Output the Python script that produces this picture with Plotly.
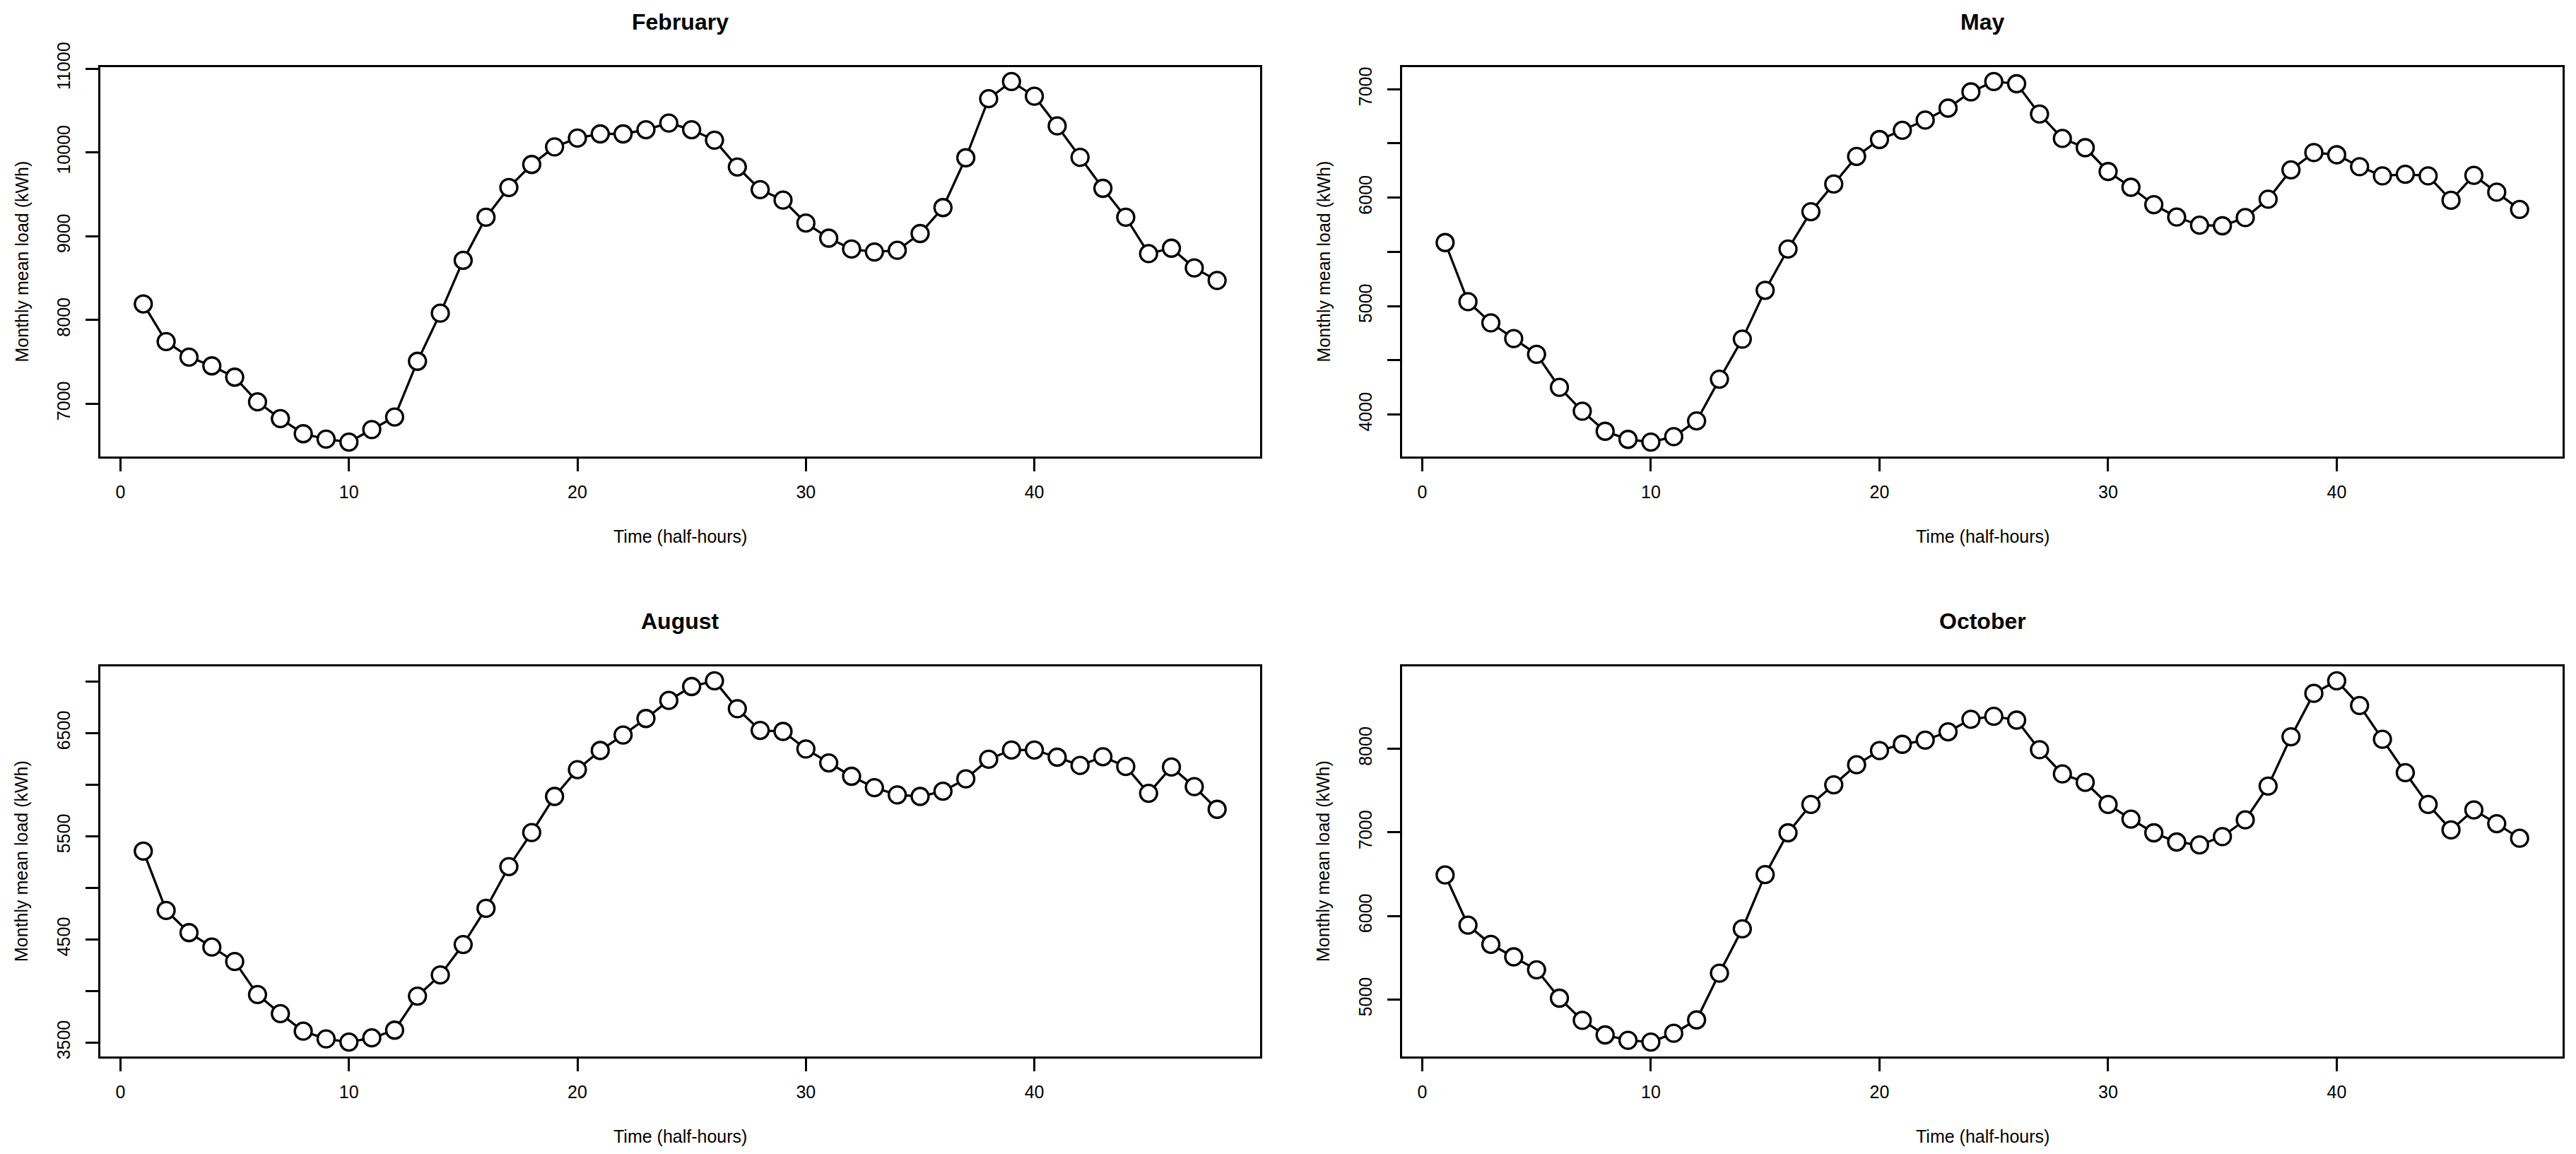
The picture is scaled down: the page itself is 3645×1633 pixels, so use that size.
import plotly.graph_objects as go
from plotly.subplots import make_subplots

# half-hour index and monthly mean load (kWh)
half_hours = list(range(1, 49))

months = ["February", "May", "August", "October"]

feb = [8190, 7740, 7555, 7450, 7315, 7020, 6820, 6640, 6575, 6540, 6690, 6840,
       7505, 8080, 8710, 9225, 9580, 9855, 10065, 10170, 10220, 10220, 10270, 10350,
       10270, 10145, 9825, 9555, 9430, 9155, 8975, 8845, 8810, 8830, 9030, 9340,
       9935, 10640, 10845, 10670, 10315, 9940, 9570, 9225, 8790, 8855, 8620, 8470]

may = [5585, 5040, 4845, 4700, 4555, 4250, 4030, 3845, 3770, 3745, 3795, 3940,
       4325, 4695, 5145, 5525, 5870, 6125, 6380, 6535, 6620, 6715, 6825, 6975,
       7070, 7050, 6770, 6545, 6460, 6240, 6095, 5935, 5820, 5745, 5740, 5815,
       5985, 6255, 6415, 6395, 6285, 6200, 6215, 6200, 5975, 6205, 6050, 5890]

aug = [5355, 4780, 4565, 4425, 4285, 3965, 3780, 3610, 3535, 3505, 3545, 3620,
       3950, 4155, 4450, 4800, 5205, 5535, 5885, 6145, 6330, 6480, 6640, 6815,
       6950, 7005, 6735, 6525, 6515, 6345, 6210, 6080, 5970, 5900, 5885, 5935,
       6055, 6245, 6335, 6335, 6265, 6185, 6270, 6175, 5915, 6170, 5980, 5760]

octo = [6490, 5890, 5660, 5510, 5355, 5015, 4750, 4575, 4510, 4490, 4595, 4755,
        5315, 5845, 6495, 6995, 7335, 7570, 7810, 7980, 8055, 8105, 8205, 8355,
        8390, 8345, 7990, 7700, 7600, 7335, 7160, 6995, 6885, 6850, 6950, 7150,
        7555, 8145, 8665, 8815, 8520, 8115, 7715, 7335, 7030, 7270, 7105, 6930]

# y ticks (R draws every tick but drops overlapping labels)
feb_ticks = [7000, 8000, 9000, 10000, 11000]
feb_labels = ["7000", "8000", "9000", "10000", "11000"]
may_ticks = [4000, 4500, 5000, 5500, 6000, 6500, 7000]
may_labels = ["4000", "", "5000", "", "6000", "", "7000"]
aug_ticks = [3500, 4000, 4500, 5000, 5500, 6000, 6500, 7000]
aug_labels = ["3500", "", "4500", "", "5500", "", "6500", ""]
oct_ticks = [5000, 6000, 7000, 8000]
oct_labels = ["5000", "6000", "7000", "8000"]

x_ticks = [0, 10, 20, 30, 40]

series = [feb, may, aug, octo]
yticks = [(feb_ticks, feb_labels), (may_ticks, may_labels),
          (aug_ticks, aug_labels), (oct_ticks, oct_labels)]

W, H = 3645, 1633
OFF = 8  # the page body margin pushes the plot 8px right and down
FONT = "Liberation Sans, Arial, Helvetica, sans-serif"

# plot boxes in page pixels: (left, right, top, bottom)
boxes = [(142, 1783, 95, 646), (1984, 3626, 95, 646),
         (142, 1783, 943, 1495), (1984, 3626, 943, 1495)]


def px(v):
    return (v - OFF) / W


def py(v):
    return 1 - (v - OFF) / H


def padded(vals, frac=0.04):
    lo, hi = min(vals), max(vals)
    r = hi - lo
    return [lo - frac * r, hi + frac * r]


fig = make_subplots(rows=2, cols=2)

annotations = []
for i, (name, ys) in enumerate(zip(months, series)):
    row, col = i // 2 + 1, i % 2 + 1
    fig.add_trace(
        go.Scatter(
            x=half_hours,
            y=ys,
            mode="lines+markers",
            line=dict(color="black", width=3.3),
            marker=dict(symbol="circle", size=24, color="white",
                        line=dict(color="black", width=3.3)),
            showlegend=False,
        ),
        row=row, col=col,
    )

    l, r, t, b = boxes[i]
    suffix = "" if i == 0 else str(i + 1)
    tv, tt = yticks[i]
    fig.update_layout({
        "xaxis" + suffix: dict(
            domain=[px(l), px(r)],
            range=padded(half_hours),
            tickvals=x_ticks,
            ticks="outside", ticklen=18, tickwidth=2.5, tickcolor="black",
            showline=True, mirror=True, linecolor="black", linewidth=2.5,
            showgrid=False, zeroline=False, automargin=False,
            ticklabelstandoff=8,
        ),
        "yaxis" + suffix: dict(
            domain=[py(b), py(t)],
            range=padded(ys),
            tickvals=tv, ticktext=tt, tickangle=-90,
            ticks="outside", ticklen=18, tickwidth=2.5, tickcolor="black",
            showline=True, mirror=True, linecolor="black", linewidth=2.5,
            showgrid=False, zeroline=False, automargin=False,
            ticklabelstandoff=12,
        ),
    })

    cx = px((l + r) / 2)
    # main title
    annotations.append(dict(
        x=cx, y=py(t - 64), xref="paper", yref="paper",
        text="<b>%s</b>" % name, showarrow=False,
        font=dict(size=32, family=FONT, color="black"),
        xanchor="center", yanchor="middle",
    ))
    # x axis title
    annotations.append(dict(
        x=cx, y=py(b + 113), xref="paper", yref="paper",
        text="Time (half-hours)", showarrow=False,
        font=dict(size=25, family=FONT, color="black"),
        xanchor="center", yanchor="middle",
    ))
    # y axis title
    annotations.append(dict(
        x=px(l - 112), y=py((t + b) / 2), xref="paper", yref="paper",
        text="Monthly mean load (kWh)", showarrow=False, textangle=-90,
        font=dict(size=25, family=FONT, color="black"),
        xanchor="center", yanchor="middle",
    ))

fig.update_layout(
    width=W,
    height=H,
    margin={"r": 0, "t": 0, "l": 0, "b": 0, "pad": 0, "autoexpand": False},
    paper_bgcolor="white",
    plot_bgcolor="white",
    font=dict(family=FONT, size=25, color="black"),
    annotations=annotations,
    showlegend=False,
)

fig.write_html("out.html")
